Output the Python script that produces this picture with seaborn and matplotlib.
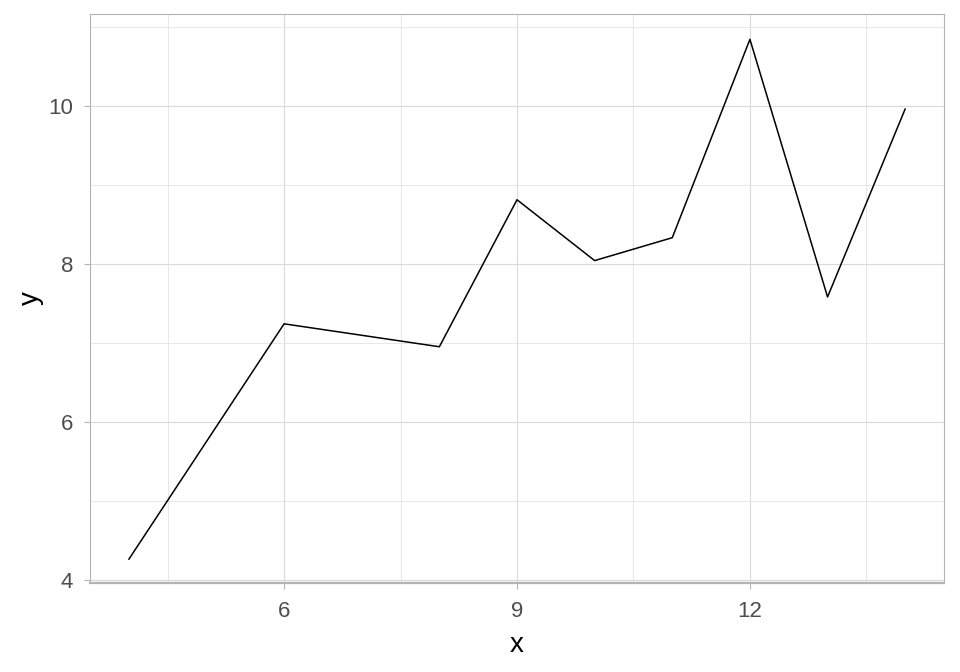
import numpy as np
import pandas as pd
import matplotlib
matplotlib.use("Agg")
import matplotlib.pyplot as plt
import seaborn as sns
from matplotlib.ticker import FixedLocator

x_vals = [4, 6, 8, 9, 10, 11, 12, 13, 14]
y_vals = [4.26, 7.24, 6.95, 8.81, 8.04, 8.33, 10.84, 7.58, 9.96]

df = pd.DataFrame({"x": x_vals, "y": y_vals})

sns.set_theme(style="white")
plt.rcParams['font.family'] = ['Liberation Sans', 'DejaVu Sans']

fig = plt.figure(figsize=(9.6, 6.72), dpi=100)
ax = fig.add_axes([0.09375, 0.1324, 0.8896, 0.8467])

sns.lineplot(data=df, x="x", y="y", color="black", linewidth=1.1, ax=ax)

ax.set_xlim(3.5, 14.5)
ax.set_ylim(3.96, 11.16)
ax.xaxis.set_major_locator(FixedLocator([6, 9, 12]))
ax.xaxis.set_minor_locator(FixedLocator([4.5, 7.5, 10.5, 13.5]))
ax.yaxis.set_major_locator(FixedLocator([4, 6, 8, 10]))
ax.yaxis.set_minor_locator(FixedLocator([5, 7, 9, 11]))

ax.grid(which="major", color="#DADADA", linewidth=0.8)
ax.grid(which="minor", color="#E3E3E3", linewidth=0.6)
ax.set_axisbelow(True)

for s in ax.spines.values():
    s.set_color("#B3B3B3")
    s.set_linewidth(0.8)
ax.spines["bottom"].set_linewidth(1.6)

ax.tick_params(which="major", length=4, width=0.8, color="#B3B3B3",
               labelsize=16, labelcolor="#4D4D4D", bottom=True, left=True)
ax.tick_params(axis="x", pad=9)
ax.tick_params(axis="y", pad=8)
ax.tick_params(which="minor", length=0)

ax.set_xlabel("x", fontsize=20, color="black", labelpad=7)
ax.set_ylabel("y", fontsize=20, color="black", labelpad=3)

fig.savefig("out.png", dpi=100)
